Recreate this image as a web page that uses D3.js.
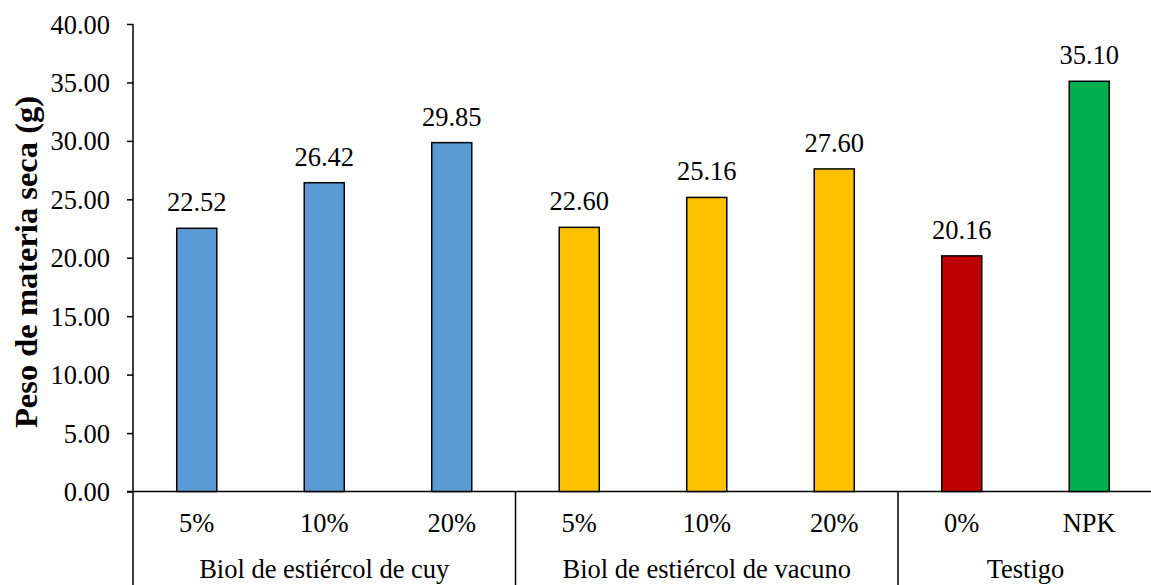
<!DOCTYPE html>
<html>
<head>
<meta charset="utf-8">
<script src="https://cdn.jsdelivr.net/npm/d3@7"></script>
<style>
  html, body { margin: 0; padding: 0; background: #fff; }
  #chart text { font-family: "Times New Roman", "Liberation Serif", serif; fill: #000; }
</style>
</head>
<body>
<svg id="chart" width="1151" height="585"></svg>
<script>
// Dry matter weight per treatment
const treatments = ["5%", "10%", "20%", "5%", "10%", "20%", "0%", "NPK"];
const groups = ["Biol de estiércol de cuy", "Biol de estiércol de vacuno", "Testigo"];
const groupOf = [0, 0, 0, 1, 1, 1, 2, 2];
const values = [22.52, 26.42, 29.85, 22.60, 25.16, 27.60, 20.16, 35.10];
const barColors = ["#5B9BD5", "#5B9BD5", "#5B9BD5", "#FFC000", "#FFC000", "#FFC000", "#C00000", "#00B050"];
const yTicks = [0, 5, 10, 15, 20, 25, 30, 35, 40];

const serif = "'Times New Roman', 'Liberation Serif', serif";
const labelSize = "26.5px";
const svg = d3.select("#chart");
const plotLeft = 133, plotRight = 1153, plotTop = 24, plotBottom = 491.5;

const x = d3.scaleBand()
  .domain(d3.range(values.length))
  .range([plotLeft, plotRight])
  .paddingInner(0.686)
  .paddingOuter(0.343);

const y = d3.scaleLinear().domain([0, 40]).range([plotBottom, plotTop]);

// Y axis
const yAxis = d3.axisLeft(y)
  .tickValues(yTicks)
  .tickFormat(d3.format(".2f"))
  .tickSize(6)
  .tickPadding(17);

const gy = svg.append("g").attr("transform", `translate(${plotLeft},0)`).call(yAxis)
  .attr("font-family", serif);
gy.select(".domain").remove();
gy.selectAll(".tick line").attr("stroke", "#000").attr("stroke-width", 1.5);
gy.selectAll(".tick text")
  .style("font-family", serif)
  .style("font-size", labelSize)
  .attr("dy", "0.34em");

// Vertical y axis line runs down through the category label area
svg.append("line")
  .attr("x1", plotLeft).attr("x2", plotLeft)
  .attr("y1", plotTop).attr("y2", 585)
  .attr("stroke", "#000").attr("stroke-width", 1.5);

// Baseline
svg.append("line")
  .attr("x1", plotLeft - 6).attr("x2", 1151)
  .attr("y1", y(0)).attr("y2", y(0))
  .attr("stroke", "#000").attr("stroke-width", 1.5);

// Group separators
const step = x.step();
const groupStarts = groups.map((g, i) => groupOf.indexOf(i));
groupStarts.slice(1).forEach(idx => {
  const sx = plotLeft + idx * step;
  svg.append("line")
    .attr("x1", sx).attr("x2", sx)
    .attr("y1", y(0)).attr("y2", 585)
    .attr("stroke", "#000").attr("stroke-width", 1.5);
});

// Bars
svg.append("g").selectAll("rect")
  .data(values)
  .join("rect")
  .attr("x", (d, i) => x(i))
  .attr("y", d => y(d))
  .attr("width", x.bandwidth())
  .attr("height", d => y(0) - y(d))
  .attr("fill", (d, i) => barColors[i])
  .attr("stroke", "#000")
  .attr("stroke-width", 1.5);

// Value labels
svg.append("g").selectAll("text")
  .data(values)
  .join("text")
  .attr("x", (d, i) => x(i) + x.bandwidth() / 2)
  .attr("y", d => y(d) - 17)
  .attr("text-anchor", "middle")
  .style("font-family", serif)
  .style("font-size", labelSize)
  .text(d => d.toFixed(2));

// Treatment labels
svg.append("g").selectAll("text")
  .data(treatments)
  .join("text")
  .attr("x", (d, i) => x(i) + x.bandwidth() / 2)
  .attr("y", 532)
  .attr("text-anchor", "middle")
  .style("font-family", serif)
  .style("font-size", labelSize)
  .text(d => d);

// Group labels
groups.forEach((g, gi) => {
  const idxs = d3.range(values.length).filter(i => groupOf[i] === gi);
  const x0 = plotLeft + idxs[0] * step;
  const x1 = plotLeft + (idxs[idxs.length - 1] + 1) * step;
  svg.append("text")
    .attr("x", (x0 + x1) / 2)
    .attr("y", 578)
    .attr("text-anchor", "middle")
    .style("font-family", serif)
    .style("font-size", labelSize)
    .text(g);
});

// Y axis title
svg.append("text")
  .attr("transform", "translate(37,262) rotate(-90)")
  .attr("text-anchor", "middle")
  .style("font-family", serif)
  .style("font-size", "32.5px")
  .style("font-weight", "bold")
  .text("Peso de materia seca (g)");
</script>
</body>
</html>
